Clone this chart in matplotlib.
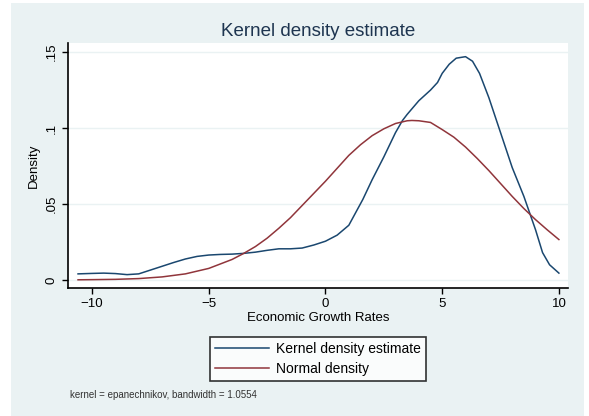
import numpy as np
import matplotlib.pyplot as plt
from matplotlib.patches import Rectangle

plt.rcParams['font.family'] = ['Liberation Sans', 'DejaVu Sans']

# kernel density estimate (epanechnikov)
kde_x = [-10.6, -10, -9.5, -9, -8.5, -8, -7.5, -7, -6.5, -6, -5.5, -5, -4.5, -4,
         -3.5, -3, -2.5, -2, -1.5, -1, -0.5, 0, 0.5, 1, 1.6, 2, 2.5, 3, 3.3, 3.5,
         4, 4.5, 4.8, 5, 5.3, 5.6, 6, 6.3, 6.6, 7, 7.5, 8, 8.5, 9, 9.3, 9.6, 10]
kde_y = [0.0040, 0.0043, 0.0045, 0.0042, 0.0035, 0.0040, 0.0065, 0.0090, 0.0115,
         0.0138, 0.0155, 0.0164, 0.0168, 0.0170, 0.0175, 0.0183, 0.0195, 0.0205,
         0.0205, 0.0210, 0.0230, 0.0255, 0.0295, 0.0360, 0.0530, 0.0660, 0.0810,
         0.0970, 0.1050, 0.1090, 0.1180, 0.1250, 0.1300, 0.1360, 0.1420, 0.1460,
         0.1470, 0.1440, 0.1360, 0.1200, 0.0970, 0.0740, 0.0550, 0.0330, 0.0180,
         0.0100, 0.0045]

# normal density
norm_x = [-10.6, -10, -9, -8, -7, -6, -5, -4, -3.5, -3, -2.5, -2, -1.5, -1, -0.5,
          0, 0.5, 1, 1.5, 2, 2.5, 3, 3.5, 3.7, 4, 4.5, 5, 5.5, 6, 6.5, 7, 7.5,
          8, 8.5, 9, 9.5, 10]
norm_y = [0.0001, 0.0002, 0.0004, 0.0009, 0.0020, 0.0040, 0.0076, 0.0135, 0.0175,
          0.0220, 0.0275, 0.0340, 0.0410, 0.0490, 0.0570, 0.0650, 0.0735, 0.0820,
          0.0890, 0.0950, 0.0995, 0.1030, 0.1048, 0.1050, 0.1048, 0.1037, 0.0990,
          0.0940, 0.0875, 0.0800, 0.0720, 0.0635, 0.0550, 0.0470, 0.0397, 0.0330,
          0.0266]

xticks = [-10, -5, 0, 5, 10]
yticks = [0, 0.05, 0.1, 0.15]
ytick_labels = ["0", ".05", ".1", ".15"]

bg = "#eaf2f3"
navy = "#1a476f"
maroon = "#90353b"

fig = plt.figure(figsize=(5.89, 4.16), dpi=100)
fig.patch.set_facecolor("white")
fig.patches.append(Rectangle((11 / 589, 0), 573 / 589, 413 / 416,
                             transform=fig.transFigure, facecolor=bg,
                             edgecolor="none", zorder=-10))

ax = fig.add_axes([68 / 589, 128 / 416, 500 / 589, 245 / 416])
ax.set_facecolor("white")
k_line, = ax.plot(kde_x, kde_y, color=navy, lw=1.1)
n_line, = ax.plot(norm_x, norm_y, color=maroon, lw=1.1)

ax.set_xlim(-11.03, 10.39)
ax.set_ylim(-0.0053, 0.156)
ax.set_xticks(xticks)
ax.set_yticks(yticks)
ax.set_yticklabels(ytick_labels, rotation=90, va="center")
ax.tick_params(direction="out", length=4, width=1, labelsize=9.5, colors="black")
ax.grid(axis="y", color=bg, lw=1)
ax.set_axisbelow(True)
for s in ["top", "right"]:
    ax.spines[s].set_visible(False)
for s in ["left", "bottom"]:
    ax.spines[s].set_linewidth(1.2)

ax.set_xlabel("Economic Growth Rates", fontsize=9.5, labelpad=1)
ax.set_ylabel("Density", fontsize=9.5, labelpad=4)
fig.text(318 / 589, 1 - 31 / 416, "Kernel density estimate", fontsize=13.5,
         color="#1e3550", ha="center", va="center")

leg = fig.legend([k_line, n_line], ["Kernel density estimate", "Normal density"],
                 loc="center", bbox_to_anchor=(318 / 589, 1 - 359 / 416),
                 fontsize=10, frameon=True, fancybox=False, handlelength=3.9,
                 handletextpad=0.5, borderpad=0.35, labelspacing=0.45)
leg.get_frame().set_edgecolor("black")
leg.get_frame().set_linewidth(1.2)

fig.text(70 / 589, 1 - 395 / 416,
         "kernel = epanechnikov, bandwidth = 1.0554", fontsize=7,
         color="#333333", va="center")

fig.savefig("out.png", dpi=100, facecolor=fig.get_facecolor())
